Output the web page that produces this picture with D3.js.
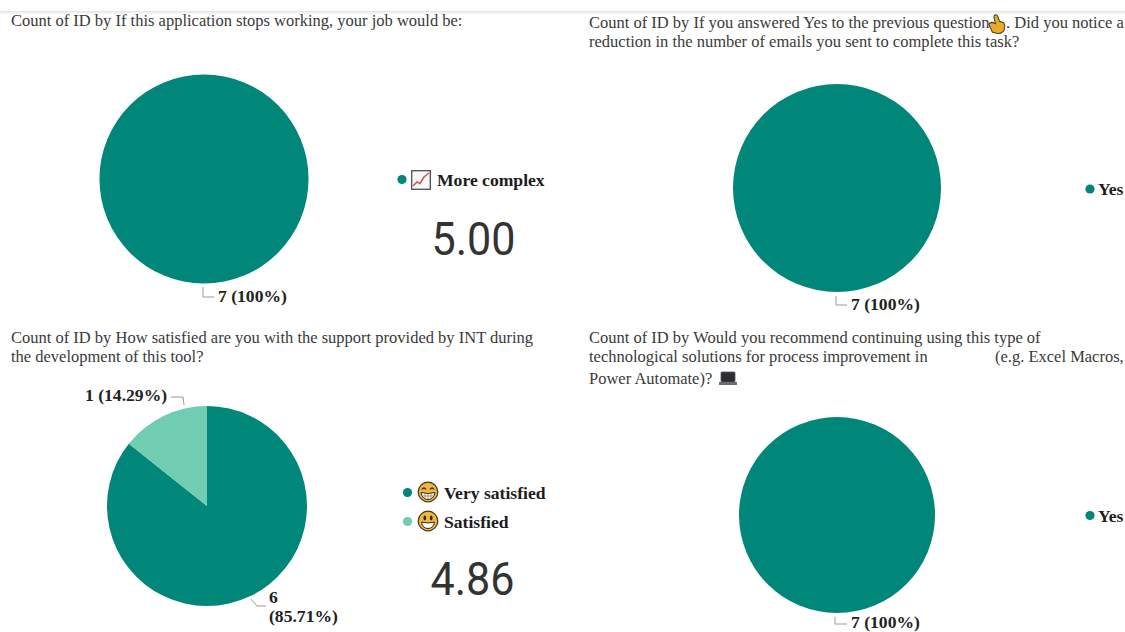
<!DOCTYPE html>
<html>
<head>
<meta charset="utf-8">
<script src="https://cdn.jsdelivr.net/npm/d3@7"></script>
<style>
  html, body { margin: 0; padding: 0; background: #fff; }
  svg { display: block; }
  .title { font: 16.5px "Liberation Serif", serif; fill: #3a3a3a; }
  .lab { font: bold 17.6px "Liberation Serif", serif; fill: #222; }
  .leg { font: bold 17.6px "Liberation Serif", serif; fill: #1c1c1c; }
  .kpi { font: 400 47px "Roboto", sans-serif; fill: #333; }
</style>
</head>
<body>
<svg id="chart" width="1125" height="632"></svg>
<script>
// Survey responses, one small list per question
const complexityCategories = ["More complex"];
const complexityCounts = [7];
const emailCategories = ["Yes"];
const emailCounts = [7];
const supportCategories = ["Very satisfied", "Satisfied"];
const supportCounts = [6, 1];
const recommendCategories = ["Yes"];
const recommendCounts = [7];
const kpiValues = ["5.00", "4.86"];
const palette = ["#01867a", "#70cdb2"];

const svg = d3.select("#chart");

// Header shadow across the top of the report page
const defs = svg.append("defs");
const fade = defs.append("linearGradient").attr("id", "topShade")
  .attr("x1", 0).attr("x2", 0).attr("y1", 0).attr("y2", 1);
fade.append("stop").attr("offset", 0).attr("stop-color", "#e4e4e4");
fade.append("stop").attr("offset", 1).attr("stop-color", "#ffffff");
svg.append("rect").attr("x", 0).attr("y", 11).attr("width", 1125).attr("height", 4)
  .attr("fill", "url(#topShade)");

const pieLayout = d3.pie().sort(null).value(d => d);

function drawPie(cx, cy, r, counts) {
  const arc = d3.arc().innerRadius(0).outerRadius(r);
  const colour = d3.scaleOrdinal().domain(d3.range(counts.length)).range(palette);
  svg.append("g").attr("transform", `translate(${cx},${cy})`)
    .selectAll("path").data(pieLayout(counts)).join("path")
    .attr("d", arc).attr("fill", (d, i) => colour(i));
}

function titleLines(x, lines) {
  lines.forEach(l => {
    svg.append("text").attr("class", "title").attr("x", l.x ?? x).attr("y", l.y).text(l.t);
  });
}

function leader(points) {
  svg.append("path").attr("d", d3.line()(points))
    .attr("fill", "none").attr("stroke", "#9a9a9a").attr("stroke-width", 1);
}

function valueLabel(x, y, t) {
  svg.append("text").attr("class", "lab").attr("x", x).attr("y", y).text(t);
}

function percent(v, counts) {
  const share = v / d3.sum(counts) * 100;
  return Number.isInteger(share) ? `${share}%` : `${share.toFixed(2)}%`;
}

function legendEntry(dotX, y, textX, t, colourIndex) {
  svg.append("circle").attr("cx", dotX).attr("cy", y).attr("r", 4.6).attr("fill", palette[colourIndex]);
  svg.append("text").attr("class", "leg").attr("x", textX).attr("y", y + 6).text(t);
}

function kpi(cx, y, t) {
  svg.append("text").attr("class", "kpi").attr("x", cx).attr("y", y).attr("text-anchor", "middle")
    .attr("textLength", 84).attr("lengthAdjust", "spacingAndGlyphs").text(t);
}

// Small pictograms that sit beside the legend entries and titles
function chartIcon(x, y) {
  const g = svg.append("g").attr("transform", `translate(${x},${y})`);
  g.append("rect").attr("x", 0.7).attr("y", 0.7).attr("width", 18.6).attr("height", 18.6)
    .attr("fill", "#f4f6f7").attr("stroke", "#4a4f55").attr("stroke-width", 1.3);
  g.append("path").attr("d", "M2 16 L6 12 L9 13.5 L13 7 L18 3")
    .attr("fill", "none").attr("stroke", "#c8604e").attr("stroke-width", 1.6);
}

function faceIcon(cx, cy, grin) {
  const g = svg.append("g").attr("transform", `translate(${cx},${cy})`);
  g.append("circle").attr("r", 9.8).attr("fill", "#f3b73e").attr("stroke", "#3e3420").attr("stroke-width", 1.2);
  if (grin) {
    g.append("path").attr("d", "M-6 -2.5 Q-4 -5.5 -2 -2.5 M2 -2.5 Q4 -5.5 6 -2.5")
      .attr("fill", "none").attr("stroke", "#33291a").attr("stroke-width", 1.3);
    g.append("path").attr("d", "M-7 0.5 Q0 2.5 7 0.5 Q6 7.5 0 7.5 Q-6 7.5 -7 0.5 Z")
      .attr("fill", "#fff").attr("stroke", "#33291a").attr("stroke-width", 1);
    g.append("path").attr("d", "M-6 4 H6 M-3 1.5 V7 M0 1.5 V7.5 M3 1.5 V7")
      .attr("stroke", "#6a5a3a").attr("stroke-width", 0.6);
  } else {
    g.append("ellipse").attr("cx", -3.2).attr("cy", -3).attr("rx", 1.4).attr("ry", 2.4).attr("fill", "#33291a");
    g.append("ellipse").attr("cx", 3.2).attr("cy", -3).attr("rx", 1.4).attr("ry", 2.4).attr("fill", "#33291a");
    g.append("path").attr("d", "M-6.5 1 Q0 3 6.5 1 Q5.5 7.5 0 7.5 Q-5.5 7.5 -6.5 1 Z")
      .attr("fill", "#fff").attr("stroke", "#33291a").attr("stroke-width", 1);
  }
}

function handIcon(x, y) {
  const g = svg.append("g").attr("transform", `translate(${x},${y}) scale(1.1,1.2)`);
  g.append("path")
    .attr("d", "M5 1 Q7 0 8 2 L9.5 6 L13 7 Q15 9 14 13 Q12 17 7 16 L3 15 L0 9 Q0 7 3 7 L6 8 L4.5 3 Q4.3 1.5 5 1 Z")
    .attr("fill", "#eaa92c").attr("stroke", "#4a3a1c").attr("stroke-width", 0.9);
}

function laptopIcon(x, y) {
  const g = svg.append("g").attr("transform", `translate(${x},${y})`);
  g.append("rect").attr("x", 2).attr("y", 0).attr("width", 14).attr("height", 10).attr("rx", 1)
    .attr("fill", "#2c2e30").attr("stroke", "#555").attr("stroke-width", 0.8);
  g.append("rect").attr("x", 0).attr("y", 10).attr("width", 18).attr("height", 3).attr("fill", "#6b6d70");
}

// Top left: application dependency
titleLines(11, [{ y: 26, t: "Count of ID by If this application stops working, your job would be:" }]);
drawPie(204, 179, 104.5, complexityCounts);
leader([[203, 287], [203, 297], [214, 297]]);
valueLabel(218, 302, `${complexityCounts[0]} (${percent(complexityCounts[0], complexityCounts)})`);
legendEntry(402, 179.5, 437, complexityCategories[0], 0);
chartIcon(411, 170);
kpi(473.5, 255, kpiValues[0]);

// Top right: fewer emails
titleLines(589, [
  { y: 28, t: "Count of ID by If you answered Yes to the previous question" },
  { y: 28, x: 1006, t: ". Did you notice a" },
  { y: 47, t: "reduction in the number of emails you sent to complete this task?" }
]);
handIcon(989, 14);
drawPie(837, 188, 104, emailCounts);
leader([[836, 296], [836, 305], [847, 305]]);
valueLabel(851, 310, `${emailCounts[0]} (${percent(emailCounts[0], emailCounts)})`);
legendEntry(1090, 189, 1098, emailCategories[0], 0);

// Bottom left: satisfaction with support
titleLines(11, [
  { y: 343, t: "Count of ID by How satisfied are you with the support provided by INT during" },
  { y: 362, t: "the development of this tool?" }
]);
drawPie(207, 506, 100, supportCounts);
leader([[171, 397], [183, 397], [184, 405]]);
valueLabel(85, 401, `${supportCounts[1]} (${percent(supportCounts[1], supportCounts)})`);
leader([[251, 599], [257, 606], [266, 606]]);
valueLabel(269, 603, `${supportCounts[0]}`);
valueLabel(269, 622, `(${percent(supportCounts[0], supportCounts)})`);
legendEntry(407.5, 492.5, 444, supportCategories[0], 0);
legendEntry(407.5, 521.5, 444, supportCategories[1], 1);
faceIcon(428, 492, true);
faceIcon(428, 521, false);
kpi(472.5, 595, kpiValues[1]);

// Bottom right: recommendation
titleLines(589, [
  { y: 343, t: "Count of ID by Would you recommend continuing using this type of" },
  { y: 362, t: "technological solutions for process improvement in" },
  { y: 362, x: 995, t: "(e.g. Excel Macros," },
  { y: 384, t: "Power Automate)?" }
]);
laptopIcon(719, 372);
drawPie(837, 515, 98, recommendCounts);
leader([[835, 617], [835, 624], [847, 624]]);
valueLabel(851, 627.5, `${recommendCounts[0]} (${percent(recommendCounts[0], recommendCounts)})`);
legendEntry(1090, 515.5, 1098, recommendCategories[0], 0);
</script>
</body>
</html>
